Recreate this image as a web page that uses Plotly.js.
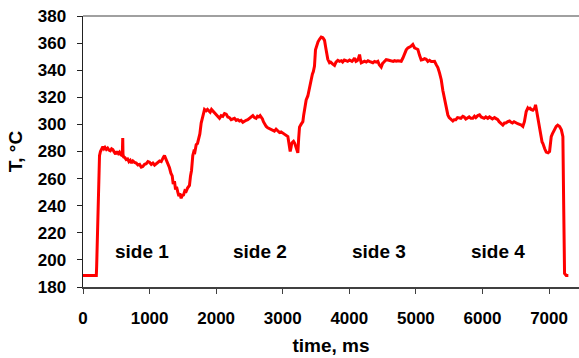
<!DOCTYPE html>
<html>
<head>
<meta charset="utf-8">
<script src="https://cdn.plot.ly/plotly-3.0.1.min.js"></script>
<style>html,body{margin:0;padding:0;background:#fff;overflow:hidden;}#chart{width:579px;height:358px;}</style>
</head>
<body>
<div id="chart"></div>
<script>
const timeMs = [
  0, 200, 205, 230, 248, 262, 280, 298, 315, 330, 350, 370, 390, 410, 430, 448, 470, 490, 510, 530,
  548, 570, 590, 597, 601, 610, 630, 649, 670, 690, 710, 730, 750, 775, 799, 825, 850, 875, 898, 925,
  950, 975, 999, 1025, 1050, 1075, 1099, 1125, 1150, 1175, 1190, 1210, 1224, 1240, 1260, 1280, 1299, 1320, 1340, 1355,
  1374, 1390, 1405, 1424, 1440, 1455, 1474, 1490, 1510, 1530, 1549, 1570, 1599, 1615, 1630, 1649, 1665, 1680, 1700, 1720,
  1740, 1755, 1775, 1790, 1810, 1825, 1850, 1870, 1890, 1910, 1930, 1950, 1975, 2000, 2025, 2050, 2075, 2100, 2125, 2151,
  2175, 2200, 2225, 2250, 2275, 2301, 2325, 2350, 2375, 2401, 2425, 2450, 2475, 2500, 2525, 2551, 2575, 2600, 2620, 2640,
  2660, 2677, 2695, 2710, 2730, 2752, 2775, 2800, 2825, 2852, 2875, 2900, 2925, 2952, 2975, 3000, 3020, 3040, 3060, 3077,
  3090, 3100, 3112, 3125, 3135, 3150, 3162, 3180, 3195, 3210, 3227, 3240, 3252, 3275, 3302, 3315, 3327, 3352, 3377, 3400,
  3428, 3445, 3460, 3477, 3492, 3510, 3530, 3555, 3578, 3603, 3628, 3645, 3660, 3677, 3702, 3720, 3752, 3778, 3800, 3827,
  3853, 3880, 3900, 3925, 3950, 3975, 4003, 4040, 4060, 4078, 4100, 4120, 4140, 4154, 4170, 4179, 4200, 4229, 4254, 4280,
  4300, 4330, 4354, 4380, 4404, 4429, 4450, 4479, 4500, 4520, 4554, 4579, 4604, 4630, 4660, 4680, 4705, 4730, 4754, 4780,
  4805, 4830, 4855, 4880, 4920, 4954, 4980, 5000, 5030, 5055, 5080, 5105, 5130, 5155, 5180, 5205, 5230, 5255, 5280, 5305,
  5330, 5355, 5381, 5405, 5430, 5455, 5480, 5500, 5520, 5540, 5555, 5575, 5600, 5625, 5650, 5675, 5705, 5725, 5750, 5775,
  5800, 5825, 5855, 5880, 5900, 5930, 5956, 5980, 6000, 6025, 6050, 6080, 6106, 6130, 6150, 6180, 6207, 6230, 6250, 6280,
  6306, 6330, 6350, 6380, 6407, 6430, 6450, 6475, 6500, 6530, 6557, 6585, 6607, 6630, 6657, 6680, 6695, 6707, 6730, 6757,
  6785, 6797, 6810, 6820, 6847, 6865, 6880, 6895, 6907, 6920, 6935, 6958, 6985, 7008, 7020, 7033, 7050, 7070, 7090, 7108,
  7130, 7158, 7185, 7200, 7208, 7220, 7233, 7258, 7290
];
const tempC = [
  188.5, 188.5, 195, 250, 277, 280, 282.5, 283.5, 282, 283, 281.5, 282.5, 281, 280.5, 282, 281.5, 279.5, 278, 280, 278.5,
  279.5, 277.5, 277, 290, 278, 276, 275.5, 274, 274.5, 272.5, 273.5, 271.5, 273, 272, 271.5, 270, 270.5, 268.5, 269, 270.5,
  271, 272.5, 272, 270.5, 271.5, 270, 271, 272, 273, 272.5, 274.5, 276, 277, 275, 273, 270, 268, 264, 262, 256,
  258, 252, 254, 250, 247, 249, 245.5, 247.5, 248, 251, 250.5, 253, 255, 262, 266, 277, 280, 279.5, 285, 286,
  290, 293, 301, 305, 308, 311, 310, 311, 309.5, 309, 311, 310, 308, 307, 306, 304.5, 306.5, 306, 308, 307.5,
  305.5, 305, 303.5, 304, 304.5, 303, 303.5, 302.5, 303, 301.5, 302.5, 303, 303.5, 304.5, 305, 306.5, 305, 304.5, 306, 305.5,
  306.5, 305.5, 304, 302, 300, 298.5, 297.5, 297, 296.5, 296, 295, 296.5, 295, 294, 294.5, 293.5, 293, 292, 291.5, 291,
  287, 284, 280, 283, 286, 287, 287.5, 286, 284, 281, 279, 290, 298, 300, 302, 307, 312, 318, 321, 327,
  335, 337, 339, 343, 355, 358, 361, 363, 364.5, 364, 362, 357, 352, 348, 345.5, 346, 344.5, 343.5, 346, 347.3,
  346.5, 347, 346, 347.5, 347, 346.5, 347.5, 346.5, 347.5, 349, 346.5, 347, 349, 351.5, 347, 345.5, 346, 346.6, 346, 347,
  346.5, 346, 345.5, 346.5, 346, 346.6, 344, 342.3, 345, 346, 347.8, 347.5, 347.3, 347, 346.5, 347, 346.6, 347, 346.8, 346.6,
  349, 352.8, 355, 356.5, 357.5, 359, 356.5, 356, 355.3, 351, 347.5, 347.8, 348.5, 348, 346.5, 347.3, 346.5, 346.5, 346.6, 344.1,
  342, 338, 333, 325, 318, 311, 307, 305, 304, 302.5, 302.5, 303.5, 303.5, 305, 305, 304.5, 306, 305.5, 304, 305,
  305.5, 304.5, 304.5, 306, 305, 306.5, 307, 305.5, 305, 304.5, 305.5, 304.5, 305.5, 305, 304, 305, 304.5, 303.5, 302, 300.5,
  299.5, 301, 301, 302, 302.5, 301.5, 301, 302, 301, 300.5, 300, 299.5, 298.5, 302, 309.5, 312, 311, 312.5, 311, 310.5,
  312, 314.5, 311, 308, 301, 296, 293, 287, 286, 283, 282, 279.5, 279, 280, 286, 291, 293, 295, 297, 298.5,
  299.5, 298.5, 296, 293, 291, 240, 190, 188.5, 188.5
];
const sideLabels = ["side 1", "side 2", "side 3", "side 4"];
const sideTimes = [880, 2665, 4450, 6230];
const sideTemp = 206;
const yTicks = [180, 200, 220, 240, 260, 280, 300, 320, 340, 360, 380];
const xTicks = [0, 1000, 2000, 3000, 4000, 5000, 6000, 7000];

const FONT = "Liberation Sans, Arial, Helvetica, sans-serif";

const annotations = sideLabels.map((s, i) => ({
  x: sideTimes[i], y: sideTemp, xref: 'x', yref: 'y', text: s, showarrow: false,
  font: {family: FONT, size: 19, color: '#000', weight: 'bold'}, xanchor: 'center', yanchor: 'middle'
}));

const trace = {
  x: timeMs, y: tempC, type: 'scatter', mode: 'lines',
  line: {color: '#ff0000', width: 3}, hoverinfo: 'skip'
};

const layout = {
  width: 579, height: 358,
  margin: {l: 83, r: 0, t: 16, b: 71, pad: 0},
  paper_bgcolor: '#fff', plot_bgcolor: '#fff',
  showlegend: false,
  xaxis: {
    range: [0, 7450], tickvals: xTicks, ticktext: xTicks.map(String),
    showgrid: false, zeroline: false, showline: true, linecolor: '#404040', linewidth: 1.5,
    ticks: 'outside', ticklen: 5, tickcolor: '#404040', tickwidth: 1,
    ticklabelstandoff: 10,
    tickfont: {family: FONT, size: 17, color: '#000', weight: 'bold'},
    title: {text: 'time, ms', font: {family: FONT, size: 19, color: '#000', weight: 'bold'}, standoff: 12},
    automargin: false, fixedrange: true
  },
  yaxis: {
    range: [180, 380], tickvals: yTicks, ticktext: yTicks.map(String),
    showgrid: false, zeroline: false, showline: true, linecolor: '#222', linewidth: 1.5,
    ticks: 'outside', ticklen: 5, tickcolor: '#222', tickwidth: 1,
    ticklabelstandoff: 7,
    tickfont: {family: FONT, size: 17, color: '#000', weight: 'bold'},
    title: {text: 'T, °C', font: {family: FONT, size: 19, color: '#000', weight: 'bold'}, standoff: 10},
    automargin: false, fixedrange: true
  },
  shapes: [{type: 'line', xref: 'paper', yref: 'paper', x0: 0, x1: 1, y0: 1, y1: 1, line: {color: '#808080', width: 1.5}}],
  annotations: annotations
};

Plotly.newPlot('chart', [trace], layout, {displayModeBar: false, staticPlot: true});
</script>
</body>
</html>
